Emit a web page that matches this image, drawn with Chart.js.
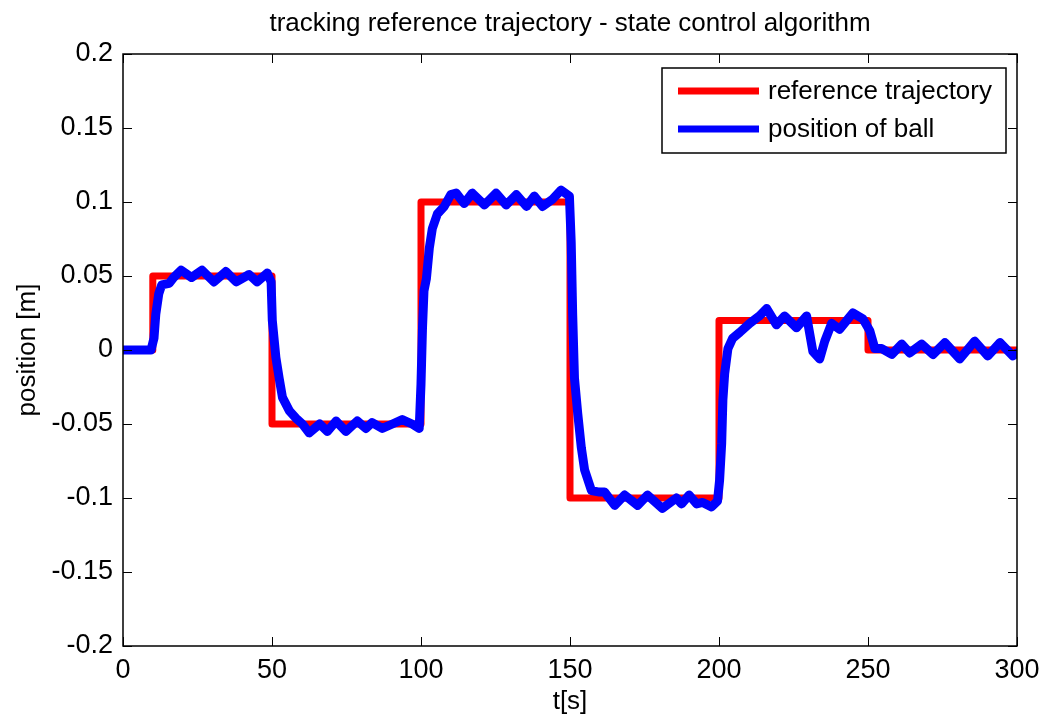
<!DOCTYPE html>
<html>
<head>
<meta charset="utf-8">
<script src="https://cdn.jsdelivr.net/npm/chart.js@4.4.1/dist/chart.umd.min.js"></script>
<style>
  html, body { margin: 0; padding: 0; background: #fff; }
  #wrap { width: 1043px; height: 718px; }
</style>
</head>
<body>
<div id="wrap"><canvas id="ballChart" width="1043" height="718"></canvas></div>
<script>
// reference trajectory: switching times and new set-point values
const refT = [0, 10, 50, 100, 150, 200, 250, 300];
const refV = [0, 0.05, -0.05, 0.1, -0.1, 0.02, 0, 0];

const ballT = [0, 9.4, 10.4, 11, 12, 13, 15.5, 17, 19.5, 23, 26.5, 30.5, 34.5, 38, 42.3, 45, 48.4, 49.7,
  50.1, 51.3, 52.4, 53.5, 55.8, 58, 60.2, 62.5, 66, 68.6, 71.5, 74.8, 78.6, 81.5, 83.6, 87, 90.4, 93.7, 97, 99.4,
  100, 100.5, 101, 101.8, 102.8, 103.8, 105.5, 107.8, 110, 111.8, 114.5, 117.2, 121.3, 125.2, 128.6, 132, 135.4,
  138, 140.8, 144.2, 147, 149.8,
  150.4, 150.9, 151.5, 152.6, 153.8, 154.9, 157.2, 159.9, 161.6, 165, 168.3, 172.7, 176, 181, 185.7, 187.4, 190,
  192.5, 194.5, 197.5, 199.5,
  200.2, 200.9, 201.3, 201.9, 203, 204.6, 207, 210.3, 213.6, 216, 219.3, 222, 226, 229.4, 231.5, 233.8, 235.5,
  237.8, 240.5, 242.9, 244.9, 248.3,
  250.6, 252.3, 254.6, 258, 261.3, 264, 268, 271.8, 275.8, 280.8, 285.8, 290.2, 294.3, 298.6, 300];
const ballV = [0, 0, 0.008, 0.024, 0.038, 0.044, 0.045, 0.049, 0.054, 0.049, 0.054, 0.046, 0.053, 0.046, 0.051, 0.046, 0.052, 0.046,
  0.02, -0.005, -0.019, -0.032, -0.041, -0.046, -0.05, -0.056, -0.05, -0.055, -0.048, -0.055, -0.048, -0.053, -0.049, -0.053, -0.05, -0.047, -0.05, -0.053,
  -0.023, 0.015, 0.04, 0.048, 0.069, 0.082, 0.092, 0.097, 0.105, 0.106, 0.099, 0.106, 0.098, 0.106, 0.098, 0.105, 0.097,
  0.104, 0.097, 0.102, 0.108, 0.104,
  0.073, 0.024, -0.019, -0.043, -0.066, -0.081, -0.095, -0.096, -0.096, -0.105, -0.098, -0.105, -0.098, -0.107, -0.1, -0.104, -0.098,
  -0.104, -0.103, -0.106, -0.102,
  -0.088, -0.063, -0.034, -0.016, 0.001, 0.008, 0.012, 0.018, 0.023, 0.028, 0.017, 0.023, 0.015, 0.023, -0.001, -0.006, 0.006,
  0.018, 0.014, 0.02, 0.025, 0.021,
  0.013, 0.001, 0.001, -0.003, 0.004, -0.002, 0.004, -0.003, 0.005, -0.006, 0.006, -0.004, 0.005, -0.004, -0.002];

const xTicks = [0, 50, 100, 150, 200, 250, 300];
const yTicks = [-0.2, -0.15, -0.1, -0.05, 0, 0.05, 0.1, 0.15, 0.2];
const yTickLabels = ['-0.2', '-0.15', '-0.1', '-0.05', '0', '0.05', '0.1', '0.15', '0.2'];

const seriesNames = ['reference trajectory', 'position of ball'];
const seriesColors = ['#ff0000', '#0000ff'];
const chartTitle = 'tracking reference trajectory - state control algorithm';
const xLabel = 't[s]';
const yLabel = 'position [m]';

const FONT = "'Liberation Sans', Arial, Helvetica, sans-serif";

// box round the plot, ticks pointing inwards on all four sides, title, legend
const matlabAxes = {
    id: 'matlabAxes',
    afterDatasetsDraw(chart) {
        const c = chart.ctx;
        const a = chart.chartArea;
        const xs = chart.scales.x;
        const ys = chart.scales.y;
        const tl = 9;
        c.save();
        c.strokeStyle = '#000';
        c.lineWidth = 1;
        c.beginPath();
        xTicks.forEach(v => {
            const px = Math.round(xs.getPixelForValue(v)) + 0.5;
            c.moveTo(px, a.bottom); c.lineTo(px, a.bottom - tl);
            c.moveTo(px, a.top); c.lineTo(px, a.top + tl);
        });
        yTicks.forEach(v => {
            const py = Math.round(ys.getPixelForValue(v)) + 0.5;
            c.moveTo(a.left, py); c.lineTo(a.left + tl, py);
            c.moveTo(a.right, py); c.lineTo(a.right - tl, py);
        });
        c.stroke();
        c.lineWidth = 1.5;
        c.strokeRect(a.left, a.top, a.right - a.left, a.bottom - a.top);

        // legend
        const lx = 662, ly = 68, lw = 344, lh = 85;
        c.fillStyle = '#fff';
        c.fillRect(lx, ly, lw, lh);
        c.lineWidth = 1.5;
        c.strokeStyle = '#000';
        c.strokeRect(lx, ly, lw, lh);
        c.font = '26px ' + FONT;
        c.textBaseline = 'middle';
        c.textAlign = 'left';
        const rows = [91, 129];
        seriesNames.forEach((name, i) => {
            c.strokeStyle = seriesColors[i];
            c.lineWidth = 7;
            c.beginPath();
            c.moveTo(678, rows[i]);
            c.lineTo(759, rows[i]);
            c.stroke();
            c.fillStyle = '#000';
            c.fillText(name, 768, rows[i] + 1);
        });

        // title
        c.font = '26px ' + FONT;
        c.textAlign = 'center';
        c.fillText(chartTitle, (a.left + a.right) / 2, 24);
        c.restore();
    }
};

const ctx = document.getElementById('ballChart').getContext('2d');

new Chart(ctx, {
    type: 'line',
    data: {
        datasets: [{
            label: seriesNames[0],
            data: refT.map((t, i) => ({ x: t, y: refV[i] })),
            borderColor: seriesColors[0],
            borderWidth: 7,
            stepped: 'before',
            pointRadius: 0,
            borderJoinStyle: 'round',
            order: 2
        }, {
            label: seriesNames[1],
            data: ballT.map((t, i) => ({ x: t, y: ballV[i] })),
            borderColor: seriesColors[1],
            borderWidth: 9,
            tension: 0,
            pointRadius: 0,
            borderJoinStyle: 'round',
            borderCapStyle: 'round',
            order: 1
        }]
    },
    options: {
        responsive: false,
        animation: false,
        layout: { padding: { top: 54, right: 26, left: 0, bottom: 0 } },
        plugins: {
            legend: { display: false },
            title: { display: false },
            tooltip: { enabled: false }
        },
        scales: {
            x: {
                type: 'linear',
                min: 0,
                max: 300,
                afterBuildTicks: s => { s.ticks = xTicks.map(v => ({ value: v })); },
                afterFit: s => { s.height = 72; s.paddingLeft = 0; s.paddingRight = 0; },
                grid: { display: false, drawTicks: false },
                border: { display: false },
                ticks: {
                    color: '#000',
                    padding: 8,
                    maxRotation: 0,
                    font: { family: FONT, size: 27 }
                },
                title: {
                    display: true,
                    text: xLabel,
                    color: '#000',
                    padding: { top: 0, bottom: 1 },
                    font: { family: FONT, size: 26 }
                }
            },
            y: {
                type: 'linear',
                min: -0.2,
                max: 0.2,
                afterBuildTicks: s => { s.ticks = yTicks.map(v => ({ value: v })); },
                afterFit: s => { s.width = 123; s.paddingTop = 0; s.paddingBottom = 0; },
                grid: { display: false, drawTicks: false },
                border: { display: false },
                ticks: {
                    color: '#000',
                    padding: 10,
                    font: { family: FONT, size: 27 },
                    callback: function (value, index) { return yTickLabels[index]; }
                },
                title: {
                    display: true,
                    text: yLabel,
                    color: '#000',
                    padding: { top: 12, bottom: 0 },
                    font: { family: FONT, size: 26 }
                }
            }
        }
    },
    plugins: [matlabAxes]
});
</script>
</body>
</html>
